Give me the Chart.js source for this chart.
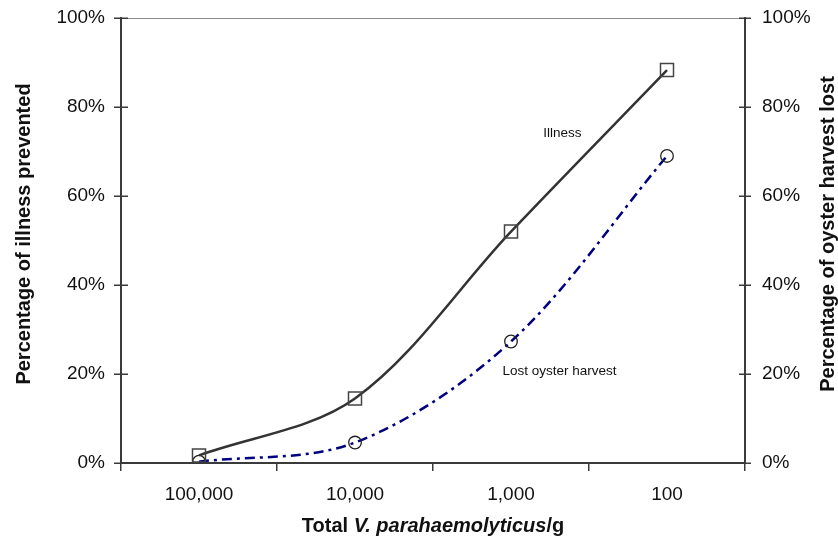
<!DOCTYPE html>
<html>
<head>
<meta charset="utf-8">
<script src="https://cdn.jsdelivr.net/npm/chart.js@4"></script>
<style>
  html, body { margin: 0; padding: 0; background: #fff; }
  canvas { display: block; }
</style>
</head>
<body>
<canvas id="chart" width="838" height="539"></canvas>
<script>
// ---- data ----
const counts = ["100,000", "10,000", "1,000", "100"];
const illnessPrevented = [1.7, 14.5, 52.0, 88.3];
const harvestLost = [0.3, 4.6, 27.3, 69.0];
const pctTicks = [0, 20, 40, 60, 80, 100];

// label positions given in chart units (category index, percent)
const notes = [
  { text: "Illness", x: 2.33, y: 74.2, align: "center" },
  { text: "Lost oyster harvest", x: 1.945, y: 20.6, align: "left" },
];

const FONT = "'Liberation Sans', Arial, Helvetica, sans-serif";
const AXIS = "#3a3a3a";

function hline(ctx, x1, y1, x2, y2) {
  ctx.beginPath();
  ctx.moveTo(x1, y1);
  ctx.lineTo(x2, y2);
  ctx.stroke();
}

// frame line, crossing ticks, notes and axis titles
const decor = {
  id: "decor",
  afterDraw(chart) {
    const { ctx, chartArea: a, scales } = chart;
    ctx.save();

    ctx.strokeStyle = "#8c8c8c";
    ctx.lineWidth = 1;
    hline(ctx, a.left, a.top + 0.5, a.right, a.top + 0.5);

    ctx.strokeStyle = AXIS;
    ctx.lineWidth = 1.5;
    scales.y.ticks.forEach((t, i) => {
      const py = Math.round(scales.y.getPixelForTick(i)) + 0.25;
      hline(ctx, a.left - 7, py, a.left + 7, py);
    });
    scales.y1.ticks.forEach((t, i) => {
      const py = Math.round(scales.y1.getPixelForTick(i)) + 0.25;
      hline(ctx, a.right - 6, py, a.right + 6, py);
    });

    ctx.fillStyle = "#111";
    ctx.font = `13.5px ${FONT}`;
    ctx.textBaseline = "middle";
    notes.forEach(n => {
      ctx.textAlign = n.align;
      ctx.fillText(n.text, scales.x.getPixelForValue(n.x), scales.y.getPixelForValue(n.y));
    });

    // y titles, both read bottom to top
    ctx.font = `bold 20px ${FONT}`;
    ctx.textAlign = "center";
    ctx.textBaseline = "alphabetic";
    [[29.5, "Percentage of illness prevented"], [833.5, "Percentage of oyster harvest lost"]].forEach(([bx, txt]) => {
      ctx.save();
      ctx.translate(bx, 234);
      ctx.rotate(-Math.PI / 2);
      ctx.fillText(txt, 0, 0);
      ctx.restore();
    });

    // x title with italic species name
    const parts = [
      ["bold 20px", "Total "],
      ["italic bold 20px", "V. parahaemolyticus"],
      ["bold 20px", "/g"],
    ];
    let total = 0;
    parts.forEach(p => { ctx.font = `${p[0]} ${FONT}`; total += ctx.measureText(p[1]).width; });
    let x = (a.left + a.right) / 2 - total / 2;
    ctx.textAlign = "left";
    parts.forEach(p => {
      ctx.font = `${p[0]} ${FONT}`;
      ctx.fillText(p[1], x, 532);
      x += ctx.measureText(p[1]).width;
    });

    ctx.restore();
  },
};

const yScale = (position, width, padding) => ({
  type: "linear",
  position,
  min: 0,
  max: 100,
  afterBuildTicks: s => { s.ticks = pctTicks.map(v => ({ value: v })); },
  afterFit: s => {
    s.width = width;
    s.paddingTop = 0;
    s.paddingBottom = 0;
  },
  grid: { display: false, drawTicks: false },
  border: { display: true, color: AXIS, width: 2 },
  ticks: {
    padding,
    color: "#111",
    font: { family: FONT, size: 19 },
    callback: v => `${v}%`,
  },
});

new Chart(document.getElementById("chart"), {
  type: "line",
  data: {
    labels: counts,
    datasets: [
      {
        label: "Illness",
        data: illnessPrevented,
        yAxisID: "y",
        borderColor: "#333",
        borderWidth: 2.5,
        tension: 0.33,
        pointStyle: "rect",
        pointRadius: 9.2,
        pointBorderWidth: 1.5,
        pointBorderColor: "#444",
        pointBackgroundColor: "rgba(0,0,0,0)",
      },
      {
        label: "Lost oyster harvest",
        data: harvestLost,
        yAxisID: "y1",
        borderColor: "#000080",
        borderWidth: 2.5,
        borderDash: [10, 5, 3, 5],
        tension: 0.33,
        pointStyle: "circle",
        pointRadius: 6.3,
        pointBorderWidth: 1.3,
        pointBorderColor: "#222",
        pointBackgroundColor: "rgba(0,0,0,0)",
      },
    ],
  },
  options: {
    responsive: false,
    animation: false,
    layout: { padding: { top: 18, left: 0, right: 0, bottom: 0 } },
    plugins: {
      legend: { display: false },
      tooltip: { enabled: false },
    },
    scales: {
      x: {
        type: "category",
        offset: true,
        afterFit: s => {
          s.height = 76;
          s.paddingLeft = 0;
          s.paddingRight = 0;
        },
        grid: {
          offset: true,
          drawOnChartArea: false,
          tickLength: 8,
          color: AXIS,
          lineWidth: 1.5,
        },
        border: { color: AXIS, width: 2 },
        ticks: {
          padding: 12,
          color: "#111",
          font: { family: FONT, size: 19 },
          maxRotation: 0,
        },
      },
      y: yScale("left", 121, 16),
      y1: yScale("right", 93, 17),
    },
  },
  plugins: [decor],
});
</script>
</body>
</html>
